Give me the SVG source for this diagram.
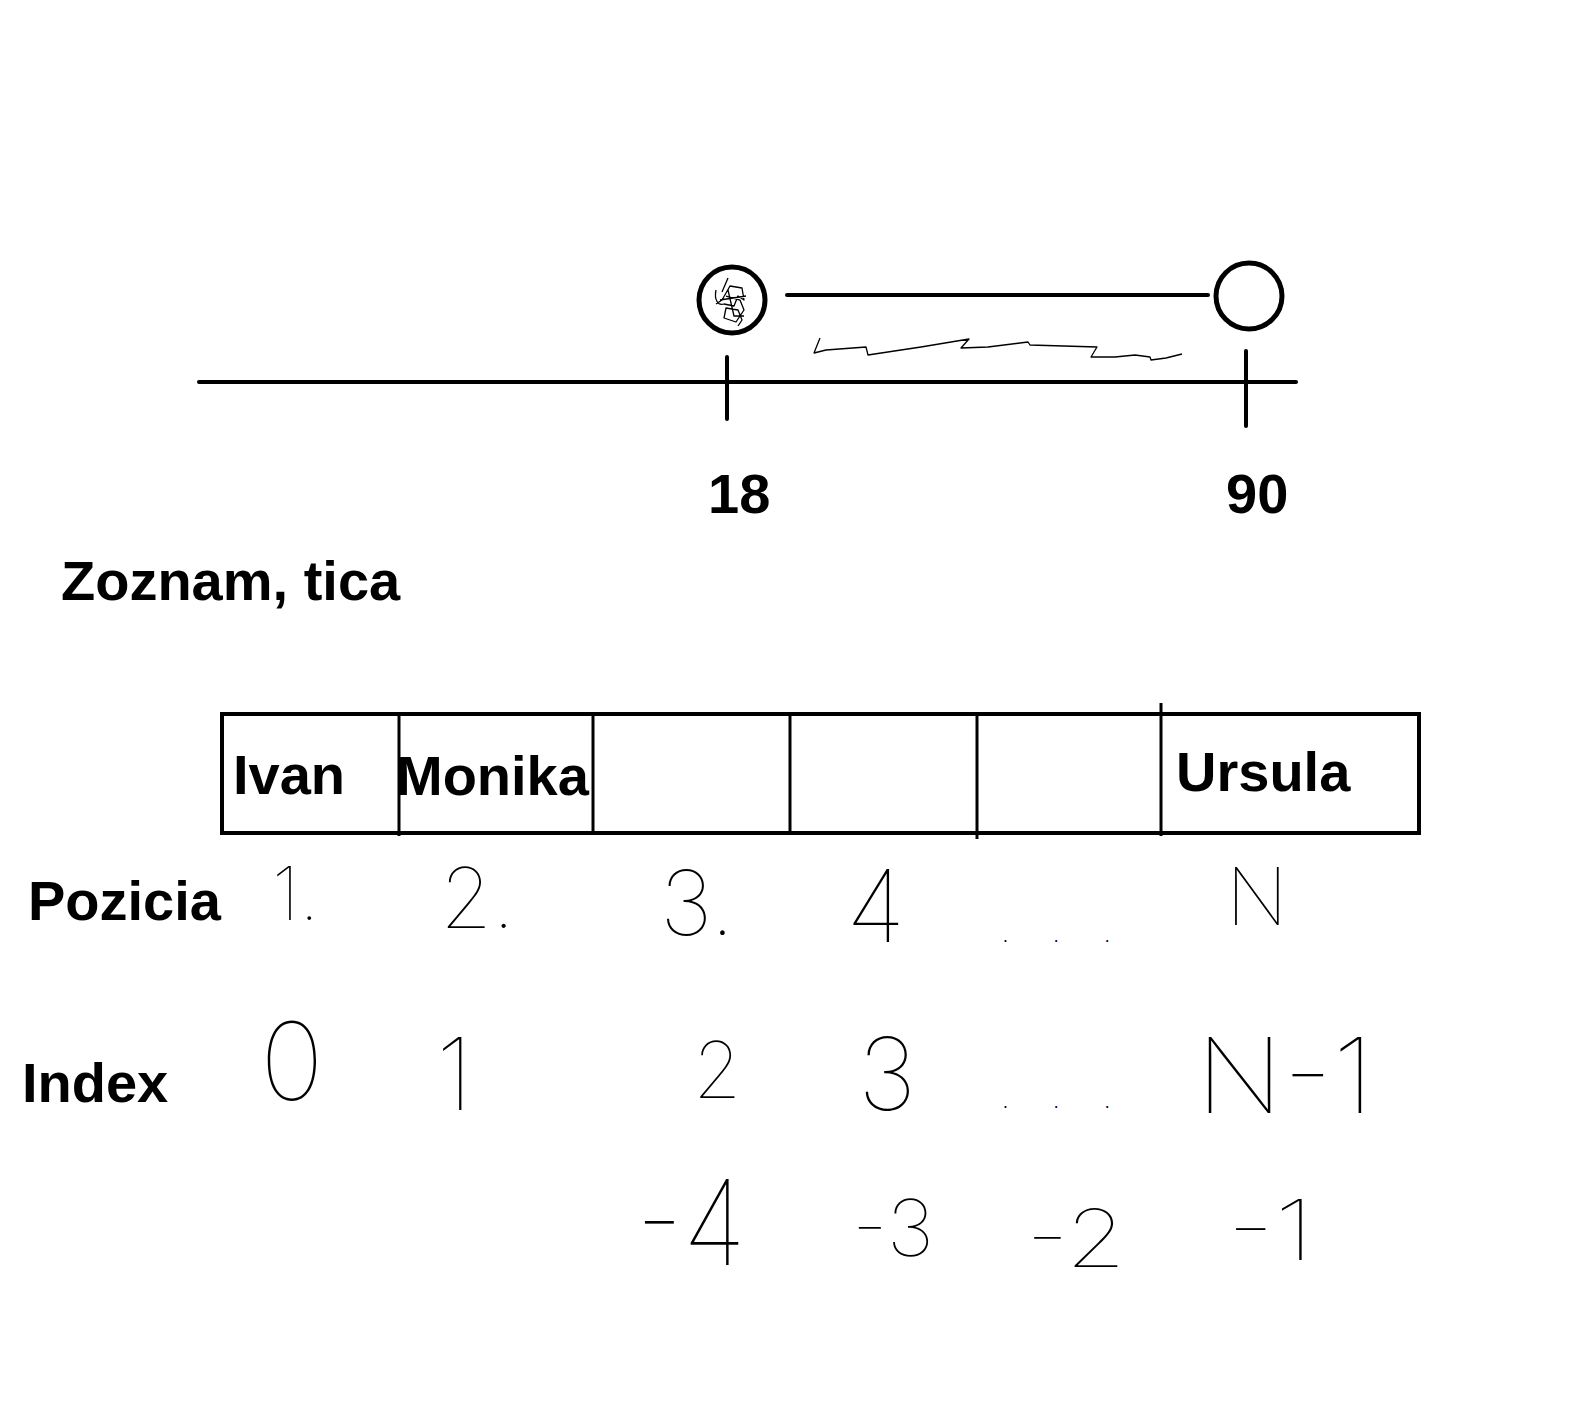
<svg xmlns="http://www.w3.org/2000/svg" width="1569" height="1426" viewBox="0 0 1569 1426">
<style>
.bold{font-family:"Liberation Sans",Arial,sans-serif;font-weight:bold;font-size:56px;fill:#000}
.hand{font-family:Inter,"Open Sans",Lato,"DejaVu Sans",sans-serif;font-weight:100;fill:#000}
.thick{stroke:#000;stroke-width:4;fill:none;stroke-linecap:round}
.thin{stroke:#000;stroke-width:1.3;fill:none;stroke-linejoin:round}
</style>
<rect width="1569" height="1426" fill="#fff"/>
<g id="number-line">
  <line class="thick" x1="199" y1="382" x2="1296" y2="382"/>
  <line class="thick" x1="727" y1="357" x2="727" y2="419"/>
  <line class="thick" x1="1246" y1="351" x2="1246" y2="426"/>
  <text class="bold" x="708" y="513">18</text>
  <text class="bold" x="1226" y="513">90</text>
</g>
<g id="interval">
  <circle cx="732" cy="300" r="33" stroke="#000" stroke-width="5" fill="#fff"/>
  <path class="thin" d="M722,292 L728,278 M716,290 C714,300 718,306 724,304 L734,306 L738,296 L744,300 L742,288 L730,286 L722,300 L716,304 M726,296 L740,300 L744,310 L736,322 L724,318 L726,308 L738,310 L742,320 L738,326 M720,300 L746,296 M728,290 L734,316 L744,316"/>
  <line class="thick" x1="787" y1="295" x2="1208" y2="295" stroke-width="5"/>
  <circle cx="1249" cy="296" r="33" stroke="#000" stroke-width="5" fill="#fff"/>
  <polyline class="thin" points="820,338 814,353 826,350 866,347 868,355 901,350 921,347 969,339 961,348 988,347 1028,342 1030,345 1097,347 1091,357 1115,357 1135,355 1150,357 1151,360 1166,358 1182,354"/>
</g>
<g id="title">
  <text class="bold" x="61" y="600">Zoznam, tica</text>
</g>
<g id="list">
  <rect x="222" y="714" width="1197" height="119" stroke="#000" stroke-width="4" fill="none"/>
  <line stroke="#000" stroke-width="3" x1="399" y1="715" x2="399" y2="836"/>
  <line stroke="#000" stroke-width="3" x1="593" y1="714" x2="593" y2="833"/>
  <line stroke="#000" stroke-width="3" x1="790" y1="714" x2="790" y2="833"/>
  <line stroke="#000" stroke-width="3" x1="977" y1="714" x2="977" y2="839"/>
  <line stroke="#000" stroke-width="3" x1="1161" y1="703" x2="1161" y2="836"/>
  <text class="bold" x="233" y="794">Ivan</text>
  <text class="bold" x="396" y="795">Monika</text>
  <text class="bold" x="1176" y="791">Ursula</text>
</g>
<g id="pozicia">
  <text class="bold" x="28" y="920">Pozicia</text>
  <text class="hand" x="272" y="920" font-size="74">1.</text>
  <text class="hand" x="440" y="928" font-size="84">2.</text>
  <text class="hand" x="660" y="935" font-size="90">3.</text>
  <text class="hand" x="846" y="942" font-size="100">4</text>
  <text class="hand" x="1000" y="942" font-size="40" letter-spacing="40">...</text>
  <text class="hand" x="1226" y="925" font-size="80">N</text>
</g>
<g id="index">
  <text class="bold" x="22" y="1102">Index</text>
  <text class="hand" x="260" y="1100" font-size="108">0</text>
  <text class="hand" x="436" y="1110" font-size="100">1</text>
  <text class="hand" x="693" y="1098" font-size="78">2</text>
  <text class="hand" x="858" y="1110" font-size="100">3</text>
  <text class="hand" x="1000" y="1108" font-size="40" letter-spacing="40">...</text>
  <text class="hand" x="1196" y="1113" font-size="104" textLength="178" lengthAdjust="spacingAndGlyphs">N-1</text>
</g>
<g id="negative-index">
  <text class="hand" x="636" y="1265" font-size="118" textLength="110" lengthAdjust="spacingAndGlyphs">-4</text>
  <text class="hand" x="852" y="1256" font-size="78" textLength="82" lengthAdjust="spacingAndGlyphs">-3</text>
  <text class="hand" x="1026" y="1267" font-size="80" textLength="100" lengthAdjust="spacingAndGlyphs">-2</text>
  <text class="hand" x="1227" y="1260" font-size="84" textLength="87" lengthAdjust="spacingAndGlyphs">-1</text>
</g>
</svg>
